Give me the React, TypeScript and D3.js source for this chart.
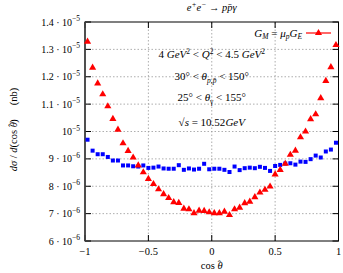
import * as d3 from "d3";

const cosTheta = d3.range(50).map((k) => -0.98 + 0.04 * k);

// GM = mu_p GE (red triangles), values in units of 1e-6 nb
const redValues = [
    13.28, 12.33, 11.76, 11.36, 10.92, 10.46, 10.07, 9.57, 9.29, 9.05,
    8.76, 8.51, 8.27, 8.08, 7.89, 7.71, 7.57, 7.42, 7.39, 7.18,
    7.16, 7.02, 7.11, 7.10, 7.05, 7.02, 7.02, 7.07, 6.95, 7.16,
    7.22, 7.38, 7.44, 7.60, 7.77, 7.87, 7.99, 8.43, 8.60, 8.82,
    9.15, 9.30, 9.79, 10.0, 10.45, 10.63, 11.22, 11.85, 12.35, 13.16,
];

// second model (blue squares)
const blueValues = [
    9.70, 9.30, 9.17, 9.17, 9.07, 8.94, 8.94, 8.76, 8.76, 8.73,
    8.72, 8.76, 8.67, 8.68, 8.72, 8.65, 8.64, 8.64, 8.77, 8.60,
    8.65, 8.61, 8.64, 8.82, 8.62, 8.64, 8.64, 8.60, 8.52, 8.72,
    8.59, 8.66, 8.68, 8.66, 8.71, 8.67, 8.56, 8.74, 8.78, 8.83,
    8.84, 8.79, 8.90, 8.89, 8.99, 9.12, 9.05, 9.27, 9.34, 9.59,
];

const yTicks = [6, 7, 8, 9, 10, 11, 12, 13, 14];
const yMantissa = ["6", "7", "8", "9", "", "1.1", "1.2", "1.3", "1.4"];
const yExponent = ["−6", "−6", "−6", "−6", "−5", "−5", "−5", "−5", "−5"];
const xTicks = [-1, -0.5, 0, 0.5, 1];
const xTickLabels = ["−1", "−0.5", "0", "0.5", "1"];

const W = 343;
const H = 273;
const margin = { top: 22, right: 4.5, bottom: 32, left: 85 };
const font = "'Liberation Serif', 'DejaVu Serif', serif";

export default function App() {
    const x = d3.scaleLinear().domain([-1, 1]).range([margin.left, W - margin.right]);
    const y = d3.scaleLinear().domain([6, 14]).range([H - margin.bottom, margin.top]);
    const [x0, x1] = x.range();
    const [y0, y1] = y.range();
    const tri = d3.symbol(d3.symbolTriangle, 22)()!;
    const midX = (x0 + x1) / 2;

    return (
        <svg width={W} height={H} style={{ position: "absolute", left: 0, top: 0 }} fontFamily={font}>
            <rect width={W} height={H} fill="#fff" />
            {/* grid */}
            {yTicks.slice(1, -1).map((t) => (
                <line key={"gy" + t} x1={x0} x2={x1} y1={y(t)} y2={y(t)} stroke="#999" strokeWidth={0.8} strokeDasharray="1.5,2" />
            ))}
            {xTicks.slice(1, -1).map((t) => (
                <line key={"gx" + t} x1={x(t)} x2={x(t)} y1={y0} y2={y1} stroke="#999" strokeWidth={0.8} strokeDasharray="1.5,2" />
            ))}
            {/* ticks */}
            {yTicks.map((t, i) => (
                <g key={"ty" + t}>
                    <line x1={x0} x2={x0 + 6} y1={y(t)} y2={y(t)} stroke="#000" />
                    <line x1={x1} x2={x1 - 6} y1={y(t)} y2={y(t)} stroke="#000" />
                    <text x={80} y={y(t) + 3.5} fontSize={10} textAnchor="end">
                        {yMantissa[i] ? yMantissa[i] + " · 10" : "10"}
                        <tspan dy={-4.5} fontSize={7.5}>{yExponent[i]}</tspan>
                    </text>
                </g>
            ))}
            {xTicks.map((t, i) => (
                <g key={"tx" + t}>
                    <line x1={x(t)} x2={x(t)} y1={y0} y2={y0 - 6} stroke="#000" />
                    <line x1={x(t)} x2={x(t)} y1={y1} y2={y1 + 6} stroke="#000" />
                    <text x={x(t)} y={255} fontSize={10.5} textAnchor="middle">{xTickLabels[i]}</text>
                </g>
            ))}
            <rect x={x0} y={y1} width={x1 - x0} height={y0 - y1} fill="none" stroke="#000" strokeWidth={1} />
            <line x1={x0} x2={x0} y1={y1} y2={y0} stroke="#444" strokeWidth={1.6} />
            {/* data */}
            {cosTheta.map((c, i) => (
                <rect key={"b" + i} x={x(c) - 2} y={y(blueValues[i]) - 2} width={4} height={4} fill="#0000ff" />
            ))}
            {cosTheta.map((c, i) => (
                <path key={"r" + i} d={tri} transform={`translate(${x(c)},${y(redValues[i])})`} fill="#ff0000" />
            ))}
            {/* legend */}
            <text x={302} y={37} fontSize={11} textAnchor="end" fontStyle="italic">
                G<tspan dy={2} fontSize={7.5}>M</tspan><tspan dy={-2} fontStyle="normal"> = </tspan>μ<tspan dy={2} fontSize={7.5}>p</tspan><tspan dy={-2}>G</tspan><tspan dy={2} fontSize={7.5}>E</tspan>
            </text>
            <line x1={306} x2={331} y1={33} y2={33} stroke="#ff0000" strokeWidth={1.2} />
            <path d={tri} transform={`translate(318.5,33)`} fill="#ff0000" />
            {/* annotations */}
            <text x={midX} y={58} fontSize={11} textAnchor="middle">
                4 <tspan fontStyle="italic">GeV</tspan><tspan dy={-4.5} fontSize={7.5}>2</tspan><tspan dy={4.5}> &lt; </tspan><tspan fontStyle="italic">Q</tspan><tspan dy={-4.5} fontSize={7.5}>2</tspan><tspan dy={4.5}> &lt; 4.5 </tspan><tspan fontStyle="italic">GeV</tspan><tspan dy={-4.5} fontSize={7.5}>2</tspan>
            </text>
            <text x={midX} y={80} fontSize={11} textAnchor="middle">
                30° &lt; <tspan fontStyle="italic">θ</tspan><tspan dy={2.5} fontSize={7.5} fontStyle="italic">p,p̄</tspan><tspan dy={-2.5}> &lt; 150°</tspan>
            </text>
            <text x={midX} y={101} fontSize={11} textAnchor="middle">
                25° &lt; <tspan fontStyle="italic">θ</tspan><tspan dy={2.5} fontSize={7.5}>γ</tspan><tspan dy={-2.5}> &lt; 155°</tspan>
            </text>
            <text x={midX} y={126} fontSize={11} textAnchor="middle">
                √<tspan fontStyle="italic">s</tspan> = 10.52<tspan fontStyle="italic">GeV</tspan>
            </text>
            {/* titles */}
            <text x={midX} y={11} fontSize={10.5} textAnchor="middle" fontStyle="italic">
                e<tspan dy={-4} fontSize={7.5}>+</tspan><tspan dy={4}>e</tspan><tspan dy={-4} fontSize={7.5}>−</tspan><tspan dy={4} fontStyle="normal"> → </tspan>pp̄γ
            </text>
            <text x={midX} y={269} fontSize={10.5} textAnchor="middle">
                cos <tspan fontStyle="italic">θ</tspan><tspan dx={-5} dy={-1} fontSize={10}>ˆ</tspan>
            </text>
            <text transform={`translate(17,${(y0 + y1) / 2 - 2}) rotate(-90)`} fontSize={10.5} textAnchor="middle">
                <tspan fontStyle="italic">dσ</tspan> / <tspan fontStyle="italic">d</tspan>(cos <tspan fontStyle="italic">θ</tspan><tspan dx={-5} dy={-1} fontSize={10}>ˆ</tspan><tspan dx={1} dy={1}>)</tspan><tspan dx={14}>(nb)</tspan>
            </text>
        </svg>
    );
}
